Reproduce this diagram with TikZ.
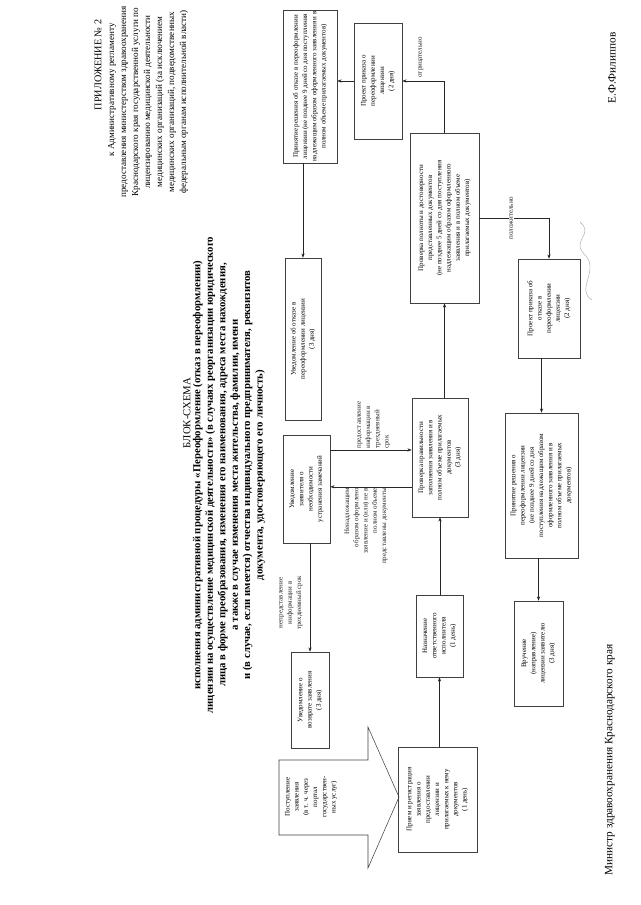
\documentclass[tikz,border=0pt]{standalone}
\usepackage{fontspec}
\setmainfont{Liberation Serif}
\usetikzlibrary{arrows.meta, positioning, calc}

\newcommand{\pxu}{0.0328cm}
\newcommand{\boxfont}{\fontsize{6.5}{8.6}\selectfont}
\newcommand{\headfont}{\fontsize{8.5}{11.2}\selectfont}
\newcommand{\titlefont}{\fontsize{10}{11.6}\selectfont\bfseries}
\newcommand{\signfont}{\fontsize{10.5}{12}\selectfont}

\begin{document}
\begin{tikzpicture}[
    x=0.0328cm, y=-0.0328cm,
    box/.style={
        rectangle, draw=black!75, line width=0.5pt, rotate=90,
        align=center, font=\boxfont, inner sep=1pt
    },
    lbl/.style={rotate=90, font=\boxfont, inner sep=1pt},
    arr/.style={-{Stealth[length=4pt, width=3pt]}, line width=0.5pt, black!85},
]
\useasboundingbox (0,0) rectangle (640,905);

% Header
\node[rotate=90, font=\fontsize{9.5}{11}\selectfont] (appendix) at (98,65) {ПРИЛОЖЕНИЕ № 2};
\node[rotate=90, font=\headfont] (regulation) at (112,90) {к Административному регламенту};
\node[rotate=90, align=center, font=\headfont] (service) at (155,102) {%
    предоставления министерством здравоохранения\\
    Краснодарского края государственной услуги по\\
    лицензированию медицинской деятельности\\
    медицинских организаций (за исключением\\
    медицинских организаций, подведомственных\\
    федеральным органам исполнительной власти)};

\node[rotate=90, font=\fontsize{10}{12}\selectfont] (title) at (187,413) {БЛОК-СХЕМА};
\node[rotate=90, align=center, font=\titlefont] (subtitle) at (229,475) {%
    исполнения административной процедуры «Переоформление (отказ в переоформлении)\\
    лицензии на осуществление медицинской деятельности» (в случаях реорганизации юридического\\
    лица в форме преобразования, изменения его наименования, адреса места нахождения,\\
    а также в случае изменения места жительства, фамилии, имени\\
    и (в случае, если имеется) отчества индивидуального предпринимателя, реквизитов\\
    документа, удостоверяющего его личность)};

% Nodes
\node[rotate=90, align=center, font=\boxfont] (entry) at (311,797)
    {Поступление\\ заявления\\ (в т. ч. через\\ портал\\ государствен-\\ ных услуг)};
\draw[black!75, line width=0.5pt] (279,760) -- (368,760) -- (368,727) -- (399,797)
    -- (368,868) -- (368,835) -- (279,835) -- cycle;

\node[box, minimum width=105*\pxu, minimum height=79*\pxu] (reception) at (437.5,799.5)
    {Прием и регистрация\\ заявления о\\ предоставлении\\ лицензии и\\ прилагаемых к нему\\ документов\\ (1 день)};
\node[box, minimum width=82*\pxu, minimum height=47*\pxu] (assign) at (439.5,636)
    {Назначение\\ ответственного\\ исполнителя\\ (1 день)};
\node[box, minimum width=119*\pxu, minimum height=56*\pxu] (checkform) at (440,457.5)
    {Проверка правильности\\ заполнения заявления и в\\ полном объеме прилагаемых\\ документов\\ (3 дня)};
\node[box, minimum width=170*\pxu, minimum height=69*\pxu] (checkfull) at (444.5,218)
    {Проверка полноты и достоверности\\ представленных документов\\ (не позднее 5 дней со дня поступления\\ надлежащим образом оформленного\\ заявления и в полном объеме\\ прилагаемых документов)};
\node[box, minimum width=116*\pxu, minimum height=48*\pxu] (draftrenew) at (378,81)
    {Проект приказа о\\ переоформлении\\ лицензии\\ (2 дня)};
\node[box, minimum width=147*\pxu, minimum height=54*\pxu] (refusedecision) at (310,86.5)
    {Принятие решения об отказе в переоформлении\\ лицензии (не позднее 9 дней со дня поступления\\ надлежащим образом оформленного заявления и в\\ полном объеме прилагаемых документов)};
\node[box, minimum width=162*\pxu, minimum height=36*\pxu] (refusenotice) at (303,339)
    {Уведомление об отказе в\\ переоформлении лицензии\\ (3 дня)};
\node[box, minimum width=99*\pxu, minimum height=62*\pxu] (draftrefuse) at (549,308.5)
    {Проект приказа об\\ отказе в\\ переоформлении\\ лицензии\\ (2 дня)};
\node[box, minimum width=145*\pxu, minimum height=73*\pxu] (renewdecision) at (541.5,485.5)
    {Принятие решения о\\ переоформлении лицензии\\ (не позднее 9 дней со дня\\ поступления надлежащим образом\\ оформленного заявления и в\\ полном объеме прилагаемых\\ документов)};
\node[box, minimum width=105*\pxu, minimum height=49*\pxu] (delivery) at (538.5,653.5)
    {Вручение\\ (направление)\\ лицензии заявителю\\ (3 дня)};
\node[box, minimum width=108*\pxu, minimum height=47*\pxu] (remarks) at (306.5,489)
    {Уведомление\\ заявителя о\\ необходимости\\ устранения замечаний};
\node[box, minimum width=96*\pxu, minimum height=38*\pxu] (returnnotice) at (310,700)
    {Уведомление о\\ возврате заявления\\ (3 дня)};

% Main column
\draw[arr] (reception.east -| assign.west) -- (assign.west);
\draw[arr] (assign.east -| checkform.west) -- (checkform.west);
\draw[arr] (checkform.east -| checkfull.west) -- (checkfull.west);

% Negative branch
\draw[arr] (checkfull.east) |- (draftrenew.south)
    node[lbl, pos=0.78, anchor=west, fill=white, inner xsep=3pt] {отрицательно};
\draw[arr] (draftrenew.north) -- (draftrenew.north -| refusedecision.south);
\draw[arr] (refusedecision.west -| refusenotice.east) -- (refusenotice.east);

% Positive branch
\draw[arr] (checkfull.south) -| (draftrefuse.east)
    node[lbl, pos=0.23, fill=white, inner xsep=3pt] {положительно};
\draw[arr] (draftrefuse.west -| renewdecision.east) -- (renewdecision.east);
\draw[arr] (renewdecision.west -| delivery.east) -- (delivery.east);

% Remarks loop
\coordinate (fixin) at ($(remarks.south east)!0.14!(remarks.south west)$);
\coordinate (fixout) at ($(remarks.south east)!0.48!(remarks.south west)$);
\draw[arr] (fixin) -- (fixin -| checkform.north)
    node[lbl, pos=0.75, anchor=south west, align=left]
    {предоставление\\ информации в\\ трехдневный\\ срок};
\draw[arr] (fixout -| checkform.north) -- (fixout)
    node[lbl, pos=0.28, anchor=south east, align=right]
    {Ненадлежащим\\ образом оформлено\\ заявление и (или) не в\\ полном объеме\\ представлены документы};
\draw[arr] (returnnotice.east |- remarks.west) -- (returnnotice.east)
    node[lbl, pos=0.55, anchor=south, align=center, outer ysep=6pt]
    {непредставление\\ информации в\\ трехдневный срок};

% Signature
\node[rotate=90, font=\signfont] (minister) at (610,760)
    {Министр здравоохранения Краснодарского края};
\node[rotate=90, font=\signfont] (signname) at (612,68) {Е.Ф.Филиппов};
\draw[black!35, line width=0.4pt] (592,300) .. controls (575,290) and (600,270) .. (585,255)
    .. controls (570,240) and (595,235) .. (580,222);
\end{tikzpicture}
\end{document}
